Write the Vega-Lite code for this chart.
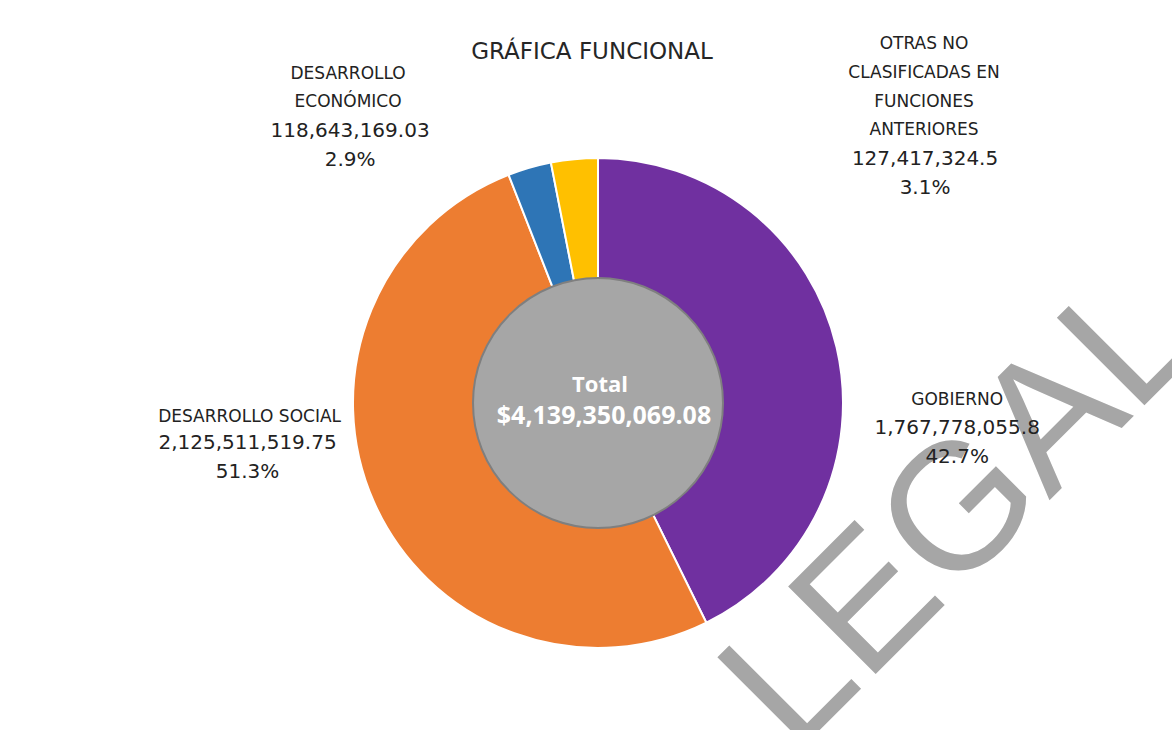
{
  "$schema": "https://vega.github.io/schema/vega-lite/v6.json",
  "autosize": {"type": "none"},
  "width": 1148,
  "height": 654,
  "padding": {"left": 24, "top": 76, "right": 0, "bottom": 0},
  "background": "white",
  "config": {"view": {"stroke": null}, "text": {"font": "DejaVu Sans"}},
  "datasets": {
    "funciones": [
      {"categoria": "Gobierno", "nombre": "GOBIERNO", "valor": 1767778055.8, "orden": 1},
      {"categoria": "Desarrollo Social", "nombre": "DESARROLLO SOCIAL", "valor": 2125511519.75, "orden": 2},
      {"categoria": "Desarrollo Económico", "nombre": "DESARROLLO\nECONÓMICO", "valor": 118643169.03, "orden": 3},
      {"categoria": "Otras No Clasificadas en funciones anteriores", "nombre": "OTRAS NO\nCLASIFICADAS EN\nFUNCIONES\nANTERIORES", "valor": 127417324.5, "orden": 4}
    ],
    "total": [{"etiqueta": "Total", "total": 4139350069.08}],
    "textos": [{"titulo": "GRÁFICA FUNCIONAL", "marca": "LEGAL"}]
  },
  "layer": [
    {
      "data": {"name": "textos"},
      "mark": {"type": "text", "angle": -45, "font": "Liberation Sans", "fontSize": 180, "fill": "#A6A6A6", "align": "center", "baseline": "alphabetic", "dx": 180, "dy": 388},
      "encoding": {"text": {"field": "marca", "type": "nominal"}}
    },
    {
      "data": {"name": "textos"},
      "mark": {"type": "text", "font": "DejaVu Sans", "fontSize": 23, "fill": "#262626", "align": "center", "baseline": "alphabetic", "dx": -6, "dy": -344},
      "encoding": {"text": {"field": "titulo", "type": "nominal"}}
    },
    {
      "data": {"name": "funciones"},
      "transform": [
        {"joinaggregate": [{"op": "sum", "field": "valor", "as": "total"}]},
        {"calculate": "format(datum.valor, ',.2~f') + '\\n' + format(datum.valor / datum.total, '.1%')", "as": "cifras"}
      ],
      "encoding": {
        "theta": {"field": "valor", "type": "quantitative", "stack": true},
        "order": {"field": "orden", "type": "quantitative"}
      },
      "layer": [
        {
          "mark": {"type": "arc", "outerRadius": 245, "innerRadius": 118, "stroke": "white", "strokeWidth": 2},
          "encoding": {
            "color": {
              "field": "categoria", "type": "nominal", "legend": null,
              "scale": {
                "domain": ["Gobierno", "Desarrollo Social", "Desarrollo Económico", "Otras No Clasificadas en funciones anteriores"],
                "range": ["#7030A0", "#ED7D31", "#2E75B6", "#FFC000"]
              }
            }
          }
        },
        {
          "mark": {"type": "text", "radius": 300, "fontSize": 17, "lineHeight": 28.5, "lineBreak": "\n", "align": "center", "baseline": "alphabetic", "fill": "#222222", "dx": 67, "dy": 70},
          "encoding": {"text": {"condition": {"test": "datum.orden === 1", "field": "nombre"}, "value": ""}}
        },
        {
          "mark": {"type": "text", "radius": 300, "fontSize": 20, "lineHeight": 29, "lineBreak": "\n", "align": "center", "baseline": "alphabetic", "fill": "#222222", "dx": 67, "dy": 99},
          "encoding": {"text": {"condition": {"test": "datum.orden === 1", "field": "cifras"}, "value": ""}}
        },
        {
          "mark": {"type": "text", "radius": 300, "fontSize": 17, "lineHeight": 28.5, "lineBreak": "\n", "align": "center", "baseline": "alphabetic", "fill": "#222222", "dx": -74, "dy": -102},
          "encoding": {"text": {"condition": {"test": "datum.orden === 2", "field": "nombre"}, "value": ""}}
        },
        {
          "mark": {"type": "text", "radius": 300, "fontSize": 20, "lineHeight": 29, "lineBreak": "\n", "align": "center", "baseline": "alphabetic", "fill": "#222222", "dx": -76, "dy": -75},
          "encoding": {"text": {"condition": {"test": "datum.orden === 2", "field": "cifras"}, "value": ""}}
        },
        {
          "mark": {"type": "text", "radius": 300, "fontSize": 17, "lineHeight": 28.5, "lineBreak": "\n", "align": "center", "baseline": "alphabetic", "fill": "#222222", "dx": -166, "dy": -36},
          "encoding": {"text": {"condition": {"test": "datum.orden === 3", "field": "nombre"}, "value": ""}}
        },
        {
          "mark": {"type": "text", "radius": 300, "fontSize": 20, "lineHeight": 29, "lineBreak": "\n", "align": "center", "baseline": "alphabetic", "fill": "#222222", "dx": -164, "dy": 22},
          "encoding": {"text": {"condition": {"test": "datum.orden === 3", "field": "cifras"}, "value": ""}}
        },
        {
          "mark": {"type": "text", "radius": 300, "fontSize": 17, "lineHeight": 28.7, "lineBreak": "\n", "align": "center", "baseline": "alphabetic", "fill": "#222222", "dx": 355, "dy": -55},
          "encoding": {"text": {"condition": {"test": "datum.orden === 4", "field": "nombre"}, "value": ""}}
        },
        {
          "mark": {"type": "text", "radius": 300, "fontSize": 20, "lineHeight": 29, "lineBreak": "\n", "align": "center", "baseline": "alphabetic", "fill": "#222222", "dx": 356, "dy": 61},
          "encoding": {"text": {"condition": {"test": "datum.orden === 4", "field": "cifras"}, "value": ""}}
        }
      ]
    },
    {
      "data": {"name": "total"},
      "mark": {"type": "arc", "outerRadius": 125, "fill": "#A6A6A6", "stroke": "#7F7F7F", "strokeWidth": 2},
      "encoding": {"theta": {"field": "total", "type": "quantitative"}}
    },
    {
      "data": {"name": "total"},
      "mark": {"type": "text", "font": "Open Sans", "fontWeight": "bold", "fontSize": 22, "fill": "white", "align": "center", "baseline": "alphabetic", "dx": 2, "dy": -11},
      "encoding": {"text": {"field": "etiqueta", "type": "nominal"}}
    },
    {
      "data": {"name": "total"},
      "mark": {"type": "text", "font": "Open Sans", "fontWeight": "bold", "fontSize": 25, "fill": "white", "align": "center", "baseline": "alphabetic", "dx": 6, "dy": 21},
      "encoding": {"text": {"field": "total", "type": "quantitative", "format": "$,.2f"}}
    }
  ]
}
